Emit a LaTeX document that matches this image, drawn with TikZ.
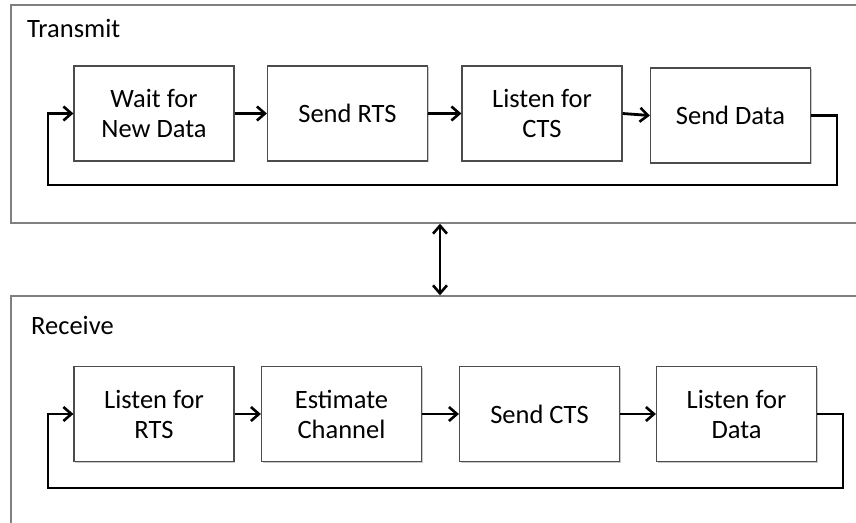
\documentclass[tikz,border=0pt]{standalone}
\usepackage{fontspec}
\setmainfont{Carlito}
\usetikzlibrary{arrows.meta,shadows}
\begin{document}
\begin{tikzpicture}[x=1pt,y=-1pt,
  frame/.style={draw=black!50,line width=1.4pt,rectangle,inner sep=0pt},
  stepbox/.style={draw=black!70,line width=1.2pt,fill=white,rectangle,minimum width=160pt,minimum height=95pt,
     align=center,font=\fontsize{26.5}{30}\selectfont,inner sep=0pt,
     drop shadow={shadow xshift=1.2pt,shadow yshift=-1.2pt,opacity=0.35,fill=black!60}},
  lbl/.style={font=\fontsize{26.5}{30}\selectfont,anchor=base west,inner sep=0pt},
  tip/.style={},
  arr/.style={line width=2.8pt,-{Straight Barb[length=8pt,width=14pt,line width=2.6pt]}},
  darr/.style={line width=2.8pt,{Straight Barb[length=8pt,width=14pt,line width=2.6pt]}-{Straight Barb[length=8pt,width=14pt,line width=2.6pt]}}]
\useasboundingbox (0,0) rectangle (856,522);
\begin{scope}
\clip (0,0) rectangle (856,522);
\node[frame,minimum width=859pt,minimum height=218pt] (tx) at (440.5,114) {};
\node[frame,minimum width=859pt,minimum height=264pt] (rx) at (440.5,428) {};
\end{scope}
\node[lbl] (tlab) at (27,37) {Transmit};
\node[lbl] (rlab) at (31,334) {Receive};
% transmit
\node[stepbox] (w)  at (154,113.5) {Wait for\\New Data};
\node[stepbox] (sr) at (347.5,113.5) {Send RTS};
\node[stepbox] (lc) at (542,113.5) {Listen for\\CTS};
\node[stepbox] (sd) at (730.5,115.5) {Send Data};
\draw[arr] (w.east) -- (sr.west);
\draw[arr] (sr.east) -- (lc.west);
\draw[arr] (lc.east) -- (sd.west);
\coordinate (tr) at (837,185);
\coordinate (tl) at (48,185);
\draw[arr] (sd.east) -| (tr) -- (tl) |- (w.west);
% receive
\node[stepbox] (lr) at (154,414) {Listen for\\RTS};
\node[stepbox] (ec) at (341.5,414) {Estimate\\Channel};
\node[stepbox] (sc) at (539.5,414) {Send CTS};
\node[stepbox] (ld) at (736.5,414) {Listen for\\Data};
\draw[arr] (lr.east) -- (ec.west);
\draw[arr] (ec.east) -- (sc.west);
\draw[arr] (sc.east) -- (ld.west);
\coordinate (rr) at (843,488);
\coordinate (rl) at (48,488);
\draw[arr] (ld.east) -| (rr) -- (rl) |- (lr.west);
% link
\coordinate (ax) at (440,0);
\draw[darr] (tx.south -| ax) -- (rx.north -| ax);
\end{tikzpicture}
\end{document}
